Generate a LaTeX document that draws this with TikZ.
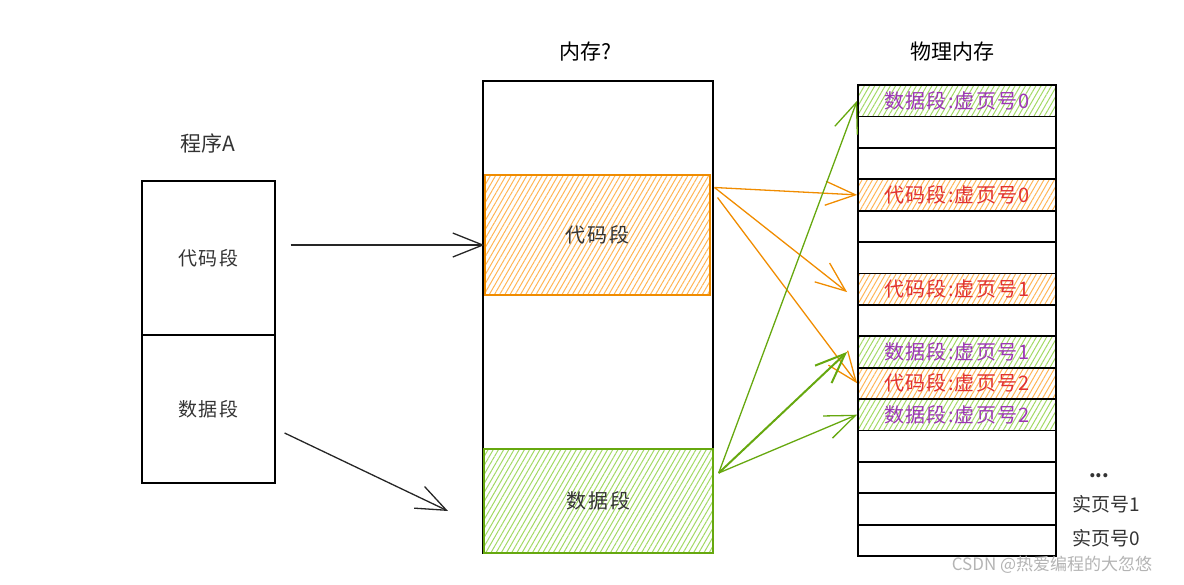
\documentclass[tikz,border=0pt]{standalone}
\usepackage{fontspec}
\setmainfont{Noto Sans CJK SC}
\usetikzlibrary{positioning,arrows.meta,patterns.meta}
\definecolor{CodeOrange}{HTML}{F08C00}
\definecolor{CodeHatch}{HTML}{FFB556}
\definecolor{DataGreen}{HTML}{66A80F}
\definecolor{DataHatch}{HTML}{A2D964}
\definecolor{PageRed}{HTML}{E03131}
\definecolor{PagePurple}{HTML}{9C36B5}
\definecolor{InkGray}{HTML}{333333}
\definecolor{MarkGray}{HTML}{B4B4B4}

\begin{document}
\begin{tikzpicture}[
    x=1pt, y=-1pt,
    every node/.style={font=\fontsize{19}{22}\selectfont, text=InkGray, inner sep=0pt},
    title/.style={font=\fontsize{21}{24}\selectfont, text=black},
    hatch/.style={pattern={Lines[angle=60,distance=4.5pt,line width=1pt]}},
    rowfont/.style={font=\fontsize{20}{24}\selectfont\addfontfeature{LetterSpace=6}},
    segbox/.style={rectangle, draw=black, line width=1.2pt, minimum width=133pt, font=\fontsize{19}{22}\selectfont\addfontfeature{LetterSpace=8}},
    codeseg/.style={rectangle, draw=CodeOrange, line width=1.4pt, hatch, pattern color=CodeHatch, font=\fontsize{20}{24}\selectfont\addfontfeature{LetterSpace=8}},
    dataseg/.style={rectangle, draw=DataGreen, line width=1.4pt, hatch, pattern color=DataHatch, font=\fontsize{20}{24}\selectfont\addfontfeature{LetterSpace=8}},
    emptyrow/.style={rectangle, draw=black, line width=1.8pt, minimum width=198pt, minimum height=31.4pt},
    coderow/.style={emptyrow, hatch, pattern color=CodeHatch, text=PageRed, rowfont},
    datarow/.style={emptyrow, hatch, pattern color=DataHatch, text=PagePurple, rowfont},
    arrow/.style={-{Straight Barb[length=30pt,width=24pt]}, line width=1.3pt, color=black!85},
    codearrow/.style={arrow, color=CodeOrange},
    dataarrow/.style={arrow, color=DataGreen}
  ]
    \useasboundingbox (0,0) rectangle (1184,584);

    % Program A (left)
    \node[title, text=InkGray] (ptitle) at (208,143) {程序A};
    \node[segbox, minimum height=154pt] (progcode) at (208.5,258) {代码段};
    \node[segbox, minimum height=148pt] (progdata) at (208.5,409) {数据段};

    % Memory (center)
    \node[title] (mtitle) at (585,52) {内存?};
    \node[rectangle, draw=black, line width=1.2pt, minimum width=230pt, minimum height=472pt] (mem) at (598,317) {};
    \node[codeseg, minimum width=225pt, minimum height=120pt] (memcode) at (597.5,235) {代码段};
    \node[dataseg, minimum width=229pt, minimum height=104pt] (memdata) at (598.5,501) {数据段};

    % Physical memory (right)
    \node[title] (ptitle2) at (952,52) {物理内存};
    \foreach \i/\s/\t in {0/datarow/{数据段:虚页号0}, 1/emptyrow/{}, 2/emptyrow/{},
        3/coderow/{代码段:虚页号0}, 4/emptyrow/{}, 5/emptyrow/{},
        6/coderow/{代码段:虚页号1}, 7/emptyrow/{}, 8/datarow/{数据段:虚页号1},
        9/coderow/{代码段:虚页号2}, 10/datarow/{数据段:虚页号2}, 11/emptyrow/{},
        12/emptyrow/{}, 13/emptyrow/{}, 14/emptyrow/{}}
      \node[\s] (r\i) at (957,{100.7+31.4*\i}) {\t};

    \node[font=\bfseries\fontsize{19}{22}\selectfont] (dots) at (1099,476) {...};
    \node (real1) at (1106,504) {实页号1};
    \node (real0) at (1106,538) {实页号0};

    % Program A -> memory
    \coordinate (dtip) at (448,511);
    \draw[arrow] ([xshift=15pt,yshift=13pt]progcode.east) -- ([yshift=-10pt]memcode.west);
    \draw[arrow] ([xshift=9pt,yshift=-24pt]progdata.east) -- (dtip);

    % memory -> physical pages
    \draw[codearrow] ([xshift=4pt,yshift=-13pt]memcode.north east) -- (r3.west);
    \draw[codearrow] ([xshift=4pt,yshift=-13pt]memcode.north east) -- ([xshift=-10pt,yshift=-3pt]r6.west);
    \draw[codearrow] ([xshift=7pt,yshift=-23pt]memcode.north east) -- (r9.west);
    \draw[dataarrow] ([xshift=5pt,yshift=28pt]memdata.east) -- (r0.west);
    \draw[dataarrow, line width=2pt] ([xshift=5pt,yshift=28pt]memdata.east) -- ([xshift=-10pt]r8.west);
    \draw[dataarrow] ([xshift=5pt,yshift=28pt]memdata.east) -- (r10.west);

    \node[text=MarkGray, font=\fontsize{17}{20}\selectfont] (mark) at (1052,565) {CSDN @热爱编程的大忽悠};
  \end{tikzpicture}
\end{document}
